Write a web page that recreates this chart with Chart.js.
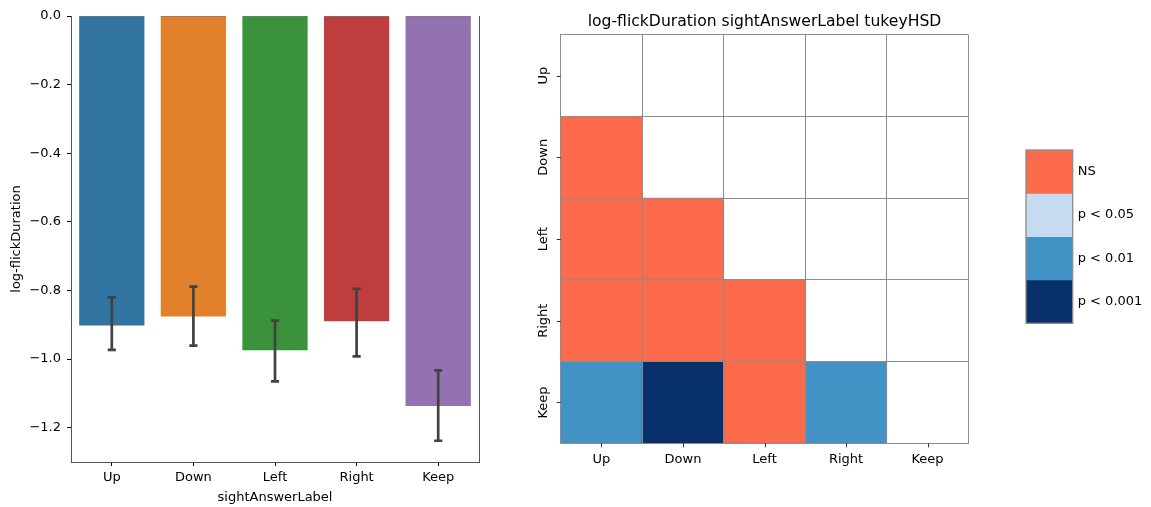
<!DOCTYPE html>
<html>
<head>
<meta charset="utf-8">
<script src="https://cdn.jsdelivr.net/npm/chart.js@4/dist/chart.umd.min.js"></script>
<style>
  html, body { margin: 0; padding: 0; background: #fff; }
  body { width: 1151px; height: 507px; position: relative; overflow: hidden; }
  .box { position: absolute; top: 0; height: 507px; }
</style>
</head>
<body>
<div class="box" style="left:0;width:500px"><canvas id="bars"></canvas></div>
<div class="box" style="left:500px;width:651px"><canvas id="heat"></canvas></div>
<div class="box" style="left:1000px;width:151px"><canvas id="cbar"></canvas></div>
<script>
// ---------- data ----------
const categories = ['Up', 'Down', 'Left', 'Right', 'Keep'];
const meanValues = [-0.902, -0.876, -0.974, -0.890, -1.137];
const ciHigh = [-0.820, -0.789, -0.888, -0.795, -1.033];
const ciLow = [-0.973, -0.961, -1.065, -0.992, -1.238];
const barColors = ['#3274a1', '#e1812c', '#3a923a', '#c03d3e', '#9372b2'];
const yTickValues = [0, -0.2, -0.4, -0.6, -0.8, -1.0, -1.2];

const chartTitle = 'log-flickDuration sightAnswerLabel tukeyHSD';
const yTitle = 'log-flickDuration';
const xTitle = 'sightAnswerLabel';

// significance levels (index into levelLabels); null = no comparison
const levelLabels = ['NS', 'p < 0.05', 'p < 0.01', 'p < 0.001'];
const levelColors = ['#fb6a4a', '#c6dbef', '#4292c6', '#08306b'];
const rowUp    = [null, null, null, null, null];
const rowDown  = [0, null, null, null, null];
const rowLeft  = [0, 0, null, null, null];
const rowRight = [0, 0, 0, null, null];
const rowKeep  = [2, 3, 0, 2, null];
const heatRows = [rowUp, rowDown, rowLeft, rowRight, rowKeep];

const FONT = "'DejaVu Sans', sans-serif";
Chart.defaults.font.family = FONT;
Chart.defaults.color = '#000';
Chart.defaults.animation = false;

// ---------- left: bar chart ----------
const errorBarPlugin = {
  id: 'errorBars',
  afterDatasetsDraw(chart) {
    const {ctx, scales: {x, y}, chartArea} = chart;
    const meta = chart.getDatasetMeta(0);
    ctx.save();
    // darker top edge of the bars
    ctx.strokeStyle = 'rgba(0,0,0,0.35)';
    ctx.lineWidth = 1;
    meta.data.forEach(bar => {
      ctx.beginPath();
      ctx.moveTo(bar.x - bar.width / 2, chartArea.top + 0.5);
      ctx.lineTo(bar.x + bar.width / 2, chartArea.top + 0.5);
      ctx.stroke();
    });
    const cap = (x.getPixelForValue(1) - x.getPixelForValue(0)) * 0.05;
    ctx.strokeStyle = '#424242';
    ctx.lineWidth = 2.7;
    ctx.lineCap = 'butt';
    categories.forEach((c, i) => {
      const px = x.getPixelForValue(i);
      const y1 = y.getPixelForValue(ciHigh[i]);
      const y2 = y.getPixelForValue(ciLow[i]);
      ctx.beginPath();
      ctx.moveTo(px, y1); ctx.lineTo(px, y2);
      ctx.moveTo(px - cap, y1); ctx.lineTo(px + cap, y1);
      ctx.moveTo(px - cap, y2); ctx.lineTo(px + cap, y2);
      ctx.stroke();
    });
    // right spine
    ctx.strokeStyle = '#555';
    ctx.lineWidth = 1;
    ctx.beginPath();
    ctx.moveTo(chartArea.right + 0.5, chartArea.top);
    ctx.lineTo(chartArea.right + 0.5, chartArea.bottom);
    ctx.stroke();
    ctx.restore();
  }
};

new Chart(document.getElementById('bars'), {
  type: 'bar',
  data: {
    labels: categories,
    datasets: [{
      data: meanValues,
      backgroundColor: barColors,
      borderWidth: 0,
      barPercentage: 0.8,
      categoryPercentage: 1.0
    }]
  },
  options: {
    responsive: true,
    maintainAspectRatio: false,
    layout: { padding: { left: 0, right: 21, top: 16, bottom: 0 } },
    plugins: { legend: { display: false }, tooltip: { enabled: false } },
    scales: {
      x: {
        offset: true,
        grid: { offset: false, drawOnChartArea: false, tickLength: 4, tickColor: '#000', tickWidth: 1 },
        border: { color: '#555', width: 1 },
        ticks: { font: { size: 13 }, padding: 4, color: '#000' },
        title: { display: true, text: xTitle, font: { size: 13 }, padding: { top: 0, bottom: 2 }, color: '#000' },
        afterFit(s) { s.height = 45; }
      },
      y: {
        min: -1.3, max: 0,
        afterBuildTicks(s) { s.ticks = yTickValues.map(v => ({ value: v })); },
        grid: { drawOnChartArea: false, tickLength: 4, tickColor: '#000', tickWidth: 1 },
        border: { color: '#555', width: 1 },
        ticks: {
          font: { size: 13 }, padding: 6, color: '#000',
          callback: v => (v < 0 ? '\u2212' : '') + Math.abs(v).toFixed(1)
        },
        title: { display: true, text: yTitle, font: { size: 13 }, padding: { top: 9, bottom: 0 }, color: '#000' },
        afterFit(s) { s.width = 71; }
      }
    }
  },
  plugins: [errorBarPlugin]
});

// ---------- right: Tukey HSD heatmap ----------
const heatDatasets = heatRows.map((row, r) => ({
  label: categories[r],
  data: row.map(v => (v === null ? null : [r, r + 1])),
  backgroundColor: row.map(v => (v === null ? 'rgba(0,0,0,0)' : levelColors[v])),
  borderWidth: 0,
  barPercentage: 1.0,
  categoryPercentage: 1.0,
  grouped: false
}));

const heatLabelPlugin = {
  id: 'heatLabels',
  afterDraw(chart) {
    const {ctx, scales: {x, y}, chartArea} = chart;
    ctx.save();
    ctx.strokeStyle = '#333';
    ctx.lineWidth = 1;
    ctx.fillStyle = '#000';
    ctx.font = '13px ' + FONT;
    ctx.textAlign = 'center';
    ctx.textBaseline = 'middle';
    categories.forEach((c, i) => {
      // y ticks + rotated labels
      const py = y.getPixelForValue(i + 0.5);
      ctx.beginPath();
      ctx.moveTo(chartArea.left - 4, Math.round(py) + 0.5);
      ctx.lineTo(chartArea.left, Math.round(py) + 0.5);
      ctx.stroke();
      ctx.save();
      ctx.translate(chartArea.left - 17, py);
      ctx.rotate(-Math.PI / 2);
      ctx.fillText(c, 0, 0);
      ctx.restore();
      // x ticks
      const px = x.getPixelForValue(i);
      ctx.beginPath();
      ctx.moveTo(Math.round(px) + 0.5, chartArea.bottom);
      ctx.lineTo(Math.round(px) + 0.5, chartArea.bottom + 4);
      ctx.stroke();
    });
    ctx.restore();
  }
};

new Chart(document.getElementById('heat'), {
  type: 'bar',
  data: { labels: categories, datasets: heatDatasets },
  options: {
    responsive: true,
    maintainAspectRatio: false,
    layout: { padding: { left: 0, right: 182.7, top: 0, bottom: 0 } },
    plugins: {
      legend: { display: false },
      tooltip: { enabled: false },
      title: {
        display: true, text: chartTitle, fullSize: false, color: '#000',
        font: { size: 15.6, weight: 'normal' }, padding: { top: 12.5, bottom: 3.5 }
      }
    },
    scales: {
      x: {
        offset: true,
        grid: { z: 1, offset: true, drawTicks: false, color: '#8c8c8c', lineWidth: 1 },
        border: { z: 1, display: true, color: '#8c8c8c', width: 1 },
        ticks: { font: { size: 13 }, padding: 9, color: '#000' },
        afterFit(s) { s.height = 63.7; }
      },
      y: {
        min: 0, max: 5, reverse: true,
        ticks: { stepSize: 1, display: false },
        grid: { z: 1, drawTicks: false, color: '#8c8c8c', lineWidth: 1 },
        border: { z: 1, display: true, color: '#8c8c8c', width: 1 },
        afterFit(s) { s.width = 60.7; }
      }
    }
  },
  plugins: [heatLabelPlugin]
});

// ---------- colour bar legend ----------
const cbarDatasets = levelLabels.map((lab, i) => ({
  label: lab,
  data: [[i, i + 1]],
  backgroundColor: levelColors[i],
  borderWidth: 0,
  barPercentage: 1.0,
  categoryPercentage: 1.0,
  grouped: false
}));

const cbarFramePlugin = {
  id: 'cbarFrame',
  afterDatasetsDraw(chart) {
    const {ctx, chartArea: a} = chart;
    ctx.save();
    ctx.strokeStyle = '#8c8c8c';
    ctx.lineWidth = 1.3;
    ctx.strokeRect(a.left, a.top, a.right - a.left, a.bottom - a.top);
    ctx.restore();
  }
};

new Chart(document.getElementById('cbar'), {
  type: 'bar',
  data: { labels: ['legend'], datasets: cbarDatasets },
  options: {
    responsive: true,
    maintainAspectRatio: false,
    layout: { padding: { left: 26, right: 0, top: 150, bottom: 183.7 } },
    plugins: { legend: { display: false }, tooltip: { enabled: false } },
    scales: {
      x: { display: false },
      y: {
        position: 'right',
        min: 0, max: 4, reverse: true,
        afterBuildTicks(s) { s.ticks = levelLabels.map((l, i) => ({ value: i + 0.5 })); },
        grid: { display: false, drawTicks: false },
        border: { display: false },
        ticks: {
          font: { size: 13 }, padding: 5, color: '#000',
          callback: v => levelLabels[Math.floor(v)]
        },
        afterFit(s) { s.width = 78.3; }
      }
    }
  },
  plugins: [cbarFramePlugin]
});
</script>
</body>
</html>
